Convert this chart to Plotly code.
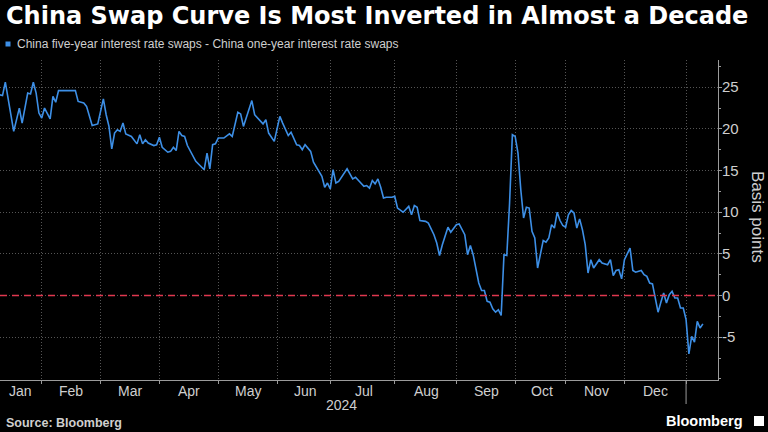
import plotly.graph_objects as go

# ---------------- data ----------------
dates = [
    "2024-01-11", "2024-01-12", "2024-01-15", "2024-01-18", "2024-01-22", "2024-01-23", "2024-01-25", "2024-01-26", "2024-01-29", "2024-01-30", "2024-01-31",
    "2024-02-01", "2024-02-02", "2024-02-06", "2024-02-07", "2024-02-08", "2024-02-09", "2024-02-19", "2024-02-20", "2024-02-22", "2024-02-23", "2024-02-27", "2024-02-29",
    "2024-03-04", "2024-03-05", "2024-03-06", "2024-03-07", "2024-03-08", "2024-03-11", "2024-03-12", "2024-03-13", "2024-03-14", "2024-03-18", "2024-03-20", "2024-03-21", "2024-03-22", "2024-03-25", "2024-03-26", "2024-03-28", "2024-03-29",
    "2024-04-01", "2024-04-02", "2024-04-05", "2024-04-08", "2024-04-09", "2024-04-10", "2024-04-11", "2024-04-12", "2024-04-15", "2024-04-16", "2024-04-19", "2024-04-22", "2024-04-24", "2024-04-25", "2024-04-26", "2024-04-29", "2024-04-30",
    "2024-05-03", "2024-05-07", "2024-05-09", "2024-05-10", "2024-05-14", "2024-05-15", "2024-05-16", "2024-05-21", "2024-05-22", "2024-05-24", "2024-05-27", "2024-05-28", "2024-05-29", "2024-05-31",
    "2024-06-04", "2024-06-05", "2024-06-07", "2024-06-11", "2024-06-13", "2024-06-14", "2024-06-17", "2024-06-18", "2024-06-20", "2024-06-21", "2024-06-24", "2024-06-26", "2024-06-27", "2024-06-28",
    "2024-07-01", "2024-07-02", "2024-07-03", "2024-07-04", "2024-07-09", "2024-07-11", "2024-07-12", "2024-07-17", "2024-07-18", "2024-07-19", "2024-07-22", "2024-07-23", "2024-07-24", "2024-07-25", "2024-07-26", "2024-07-29", "2024-07-31",
    "2024-08-01", "2024-08-02", "2024-08-05", "2024-08-06", "2024-08-08", "2024-08-09", "2024-08-12", "2024-08-13", "2024-08-14", "2024-08-16", "2024-08-19", "2024-08-21", "2024-08-22", "2024-08-23", "2024-08-26", "2024-08-28", "2024-08-29",
    "2024-09-02", "2024-09-03", "2024-09-05", "2024-09-06", "2024-09-09", "2024-09-10", "2024-09-12", "2024-09-13", "2024-09-16", "2024-09-17", "2024-09-18", "2024-09-19", "2024-09-20", "2024-09-23", "2024-09-24", "2024-09-25", "2024-09-26", "2024-09-27", "2024-09-30",
    "2024-10-08", "2024-10-09", "2024-10-10", "2024-10-11", "2024-10-14", "2024-10-15", "2024-10-16", "2024-10-17", "2024-10-18", "2024-10-22", "2024-10-23", "2024-10-24", "2024-10-25", "2024-10-28", "2024-10-29", "2024-10-30", "2024-10-31",
    "2024-11-01", "2024-11-04", "2024-11-05", "2024-11-06", "2024-11-07", "2024-11-08", "2024-11-11", "2024-11-12", "2024-11-13", "2024-11-14", "2024-11-15", "2024-11-19", "2024-11-20", "2024-11-22", "2024-11-25", "2024-11-26", "2024-11-27", "2024-11-28", "2024-11-29",
    "2024-12-02", "2024-12-04", "2024-12-05", "2024-12-06", "2024-12-10", "2024-12-11", "2024-12-12", "2024-12-13", "2024-12-16", "2024-12-17", "2024-12-18", "2024-12-19", "2024-12-20", "2024-12-23", "2024-12-24", "2024-12-25", "2024-12-26", "2024-12-27", "2024-12-30", "2024-12-31",
    "2025-01-01", "2025-01-02", "2025-01-03", "2025-01-06", "2025-01-07", "2025-01-08", "2025-01-09",
]
spread_bp = [
    24.1, 24.0, 25.6, 19.7, 22.5, 20.7, 24.3, 24.2, 25.6, 24.3, 21.9,
    21.3, 22.5, 21.2, 23.9, 23.2, 24.6, 24.6, 23.3, 23.1, 22.7, 20.4, 20.6,
    23.6, 21.7, 20.3, 17.6, 19.5, 19.9, 19.7, 20.7, 19.4, 19.1, 18.2, 19.3, 18.2, 18.7, 18.3, 18.0, 18.1,
    19.0, 17.8, 17.2, 17.3, 17.8, 17.4, 19.7, 19.2, 19.1, 18.0, 16.1, 15.8, 15.1, 17.1, 15.2, 18.1, 18.2,
    18.9, 18.9, 19.4, 19.1, 22.0, 21.8, 20.3, 23.4, 21.7, 20.9, 20.6, 21.1, 19.5, 18.5,
    21.5, 20.7, 19.2, 19.6, 18.1, 18.0, 17.5, 18.1, 17.3, 16.0, 15.4, 14.3, 13.0, 13.5,
    12.8, 15.1, 13.5, 13.7, 15.2, 14.0, 14.2, 13.1, 13.2, 12.9, 13.8, 13.4, 14.0, 13.0, 11.7, 11.8, 11.8,
    11.9, 10.5, 10.3, 10.0, 10.7, 9.7, 10.8, 10.6, 9.0, 8.9, 8.7, 7.3, 6.3, 4.8, 6.1, 8.2, 7.6,
    8.5, 8.6, 7.3, 4.9, 6.0, 4.9, 1.5, 0.6, 0.6, -0.7, -0.8, -1.6, -2.0, -1.7, -2.4, 4.9, 4.8, 11.1, 19.3,
    19.1, 17.1, 12.7, 9.3, 10.6, 10.5, 7.7, 6.9, 3.3, 6.6, 6.4, 6.9, 8.5, 8.1, 10.0, 9.0, 8.4,
    8.2, 9.7, 10.2, 9.9, 8.1, 9.2, 7.9, 6.1, 2.7, 4.3, 3.3, 4.3, 3.9, 3.7, 4.3, 2.4, 3.0, 3.1, 2.0,
    4.3, 5.7, 3.0, 2.8, 3.0, 2.5, 2.3, 1.5, 1.4, -0.3, -2.0, -0.8, 0.3, -0.9, 0.1, 0.5, -0.3, -0.3, -1.5, -1.5,
    -2.9, -7.0, -4.9, -5.6, -3.1, -3.9, -3.4,
]

# market holidays with no observation (skipped on the time axis)
holidays = ["2024-04-04", "2024-05-01", "2024-05-02", "2024-06-10",
            "2024-10-01", "2024-10-02", "2024-10-03", "2024-10-04", "2024-10-07"]

# month boundaries (first trading day of each month) and month labels
month_ticks = ["2024-02-01", "2024-03-01", "2024-04-01", "2024-05-03", "2024-06-03", "2024-07-01",
               "2024-08-01", "2024-09-02", "2024-10-08", "2024-11-01", "2024-12-02", "2025-01-01"]
month_names = ["Jan", "Feb", "Mar", "Apr", "May", "Jun", "Jul", "Aug", "Sep", "Oct", "Nov", "Dec"]
month_label_pos = ["2024-01-22 12:00", "2024-02-15 12:00", "2024-03-15 12:00", "2024-04-16 12:00",
                   "2024-05-17 19:00", "2024-06-18 00:00", "2024-07-17 00:00", "2024-08-16 10:00",
                   "2024-09-16 22:00", "2024-10-21 10:00", "2024-11-15 22:00", "2024-12-17 02:00"]
year_label = "2024"
year_label_pos = "2024-07-05 00:00"
year_boundary = "2025-01-01"

y_ticks = [-5, 0, 5, 10, 15, 20, 25]
y_minor = [-10, -7.5, -2.5, 2.5, 7.5, 12.5, 17.5, 22.5, 27.5]

title = "China Swap Curve Is Most Inverted in Almost a Decade"
series_name = "China five-year interest rate swaps - China one-year interest rate swaps"

# ---------------- styling ----------------
BG = "#000000"
LINE = "#3d8fe6"
AXIS = "#9b9b9b"
GRID = "#555555"
TXT = "#cfcfcf"
FONT = "Liberation Sans"
TFONT = "DejaVu Sans"

W, H = 768, 432
L, R, T, B = 0, 50, 60, 52
PW, PH = W - L - R, H - T - B


def px_x(px):
    return (px - L) / PW


def px_y(py):
    return (H - B - py) / PH


fig = go.Figure()
fig.add_trace(go.Scatter(x=dates, y=spread_bp, mode="lines",
                         line=dict(color=LINE, width=1.6),
                         name=series_name, showlegend=False, hoverinfo="skip"))

annotations = [
    dict(text=f"<b>{title}</b>", xref="paper", yref="paper", x=px_x(4), y=px_y(16),
         xanchor="left", yanchor="middle", showarrow=False,
         font=dict(family=TFONT, size=24, color="#ffffff")),
    dict(text=series_name, xref="paper", yref="paper", x=px_x(15), y=px_y(44),
         xanchor="left", yanchor="middle", showarrow=False,
         font=dict(family=FONT, size=12, color=TXT)),
    dict(text="Basis points", xref="paper", yref="paper", x=px_x(758), y=px_y(217),
         xanchor="center", yanchor="middle", showarrow=False, textangle=90,
         font=dict(family=FONT, size=17, color=TXT)),
    dict(text=year_label, xref="x", yref="paper", x=year_label_pos, y=px_y(405),
         xanchor="center", yanchor="middle", showarrow=False,
         font=dict(family=FONT, size=14, color=TXT)),
    dict(text="<b>Source: Bloomberg</b>", xref="paper", yref="paper", x=px_x(4), y=px_y(423),
         xanchor="left", yanchor="middle", showarrow=False,
         font=dict(family=FONT, size=12.5, color=TXT)),
    dict(text="<b>Bloomberg</b>", xref="paper", yref="paper", x=px_x(745), y=px_y(421),
         xanchor="right", yanchor="middle", showarrow=False,
         font=dict(family=FONT, size=14.5, color="#ffffff")),
]
for name, pos in zip(month_names, month_label_pos):
    annotations.append(dict(text=name, xref="x", yref="paper", x=pos, y=px_y(390.5),
                            xanchor="center", yanchor="middle", showarrow=False,
                            font=dict(family=FONT, size=14, color=TXT)))

shapes = [
    # zero reference line
    dict(type="line", xref="x domain", yref="y", x0=0, x1=1, y0=0, y1=0,
         line=dict(color="#e0384f", width=1.5, dash="7px,5px")),
    # legend swatch
    dict(type="rect", xref="paper", yref="paper", x0=px_x(5.5), x1=px_x(10.5),
         y0=px_y(46.5), y1=px_y(41.5), fillcolor=LINE, line=dict(width=0)),
    # year boundary tick
    dict(type="line", xref="x", yref="paper", x0=year_boundary, x1=year_boundary,
         y0=0, y1=px_y(404), line=dict(color=AXIS, width=1)),
    # Bloomberg logo icon
    dict(type="rect", xref="paper", yref="paper", x0=px_x(754), x1=px_x(764),
         y0=px_y(426), y1=px_y(416), fillcolor="#ffffff", line=dict(width=0)),
]

fig.update_layout(
    width=W, height=H, autosize=False,
    paper_bgcolor=BG, plot_bgcolor=BG,
    margin=dict(l=L, r=R, t=T, b=B, pad=0),
    showlegend=False,
    annotations=annotations, shapes=shapes,
    xaxis=dict(
        type="date",
        range=["2024-01-11 02:30", "2025-01-16 09:30"],
        rangebreaks=[dict(bounds=["sat", "mon"]), dict(values=holidays)],
        tickmode="array", tickvals=month_ticks, showticklabels=False,
        ticks="outside", ticklen=3, tickcolor=AXIS, tickwidth=1,
        showline=True, linecolor=AXIS, linewidth=1,
        showgrid=True, gridcolor=GRID, griddash="1px,2px", gridwidth=1,
        zeroline=False, fixedrange=True,
    ),
    yaxis=dict(
        side="right",
        range=[-10.14, 28.27],
        tickmode="array", tickvals=y_ticks, ticktext=[str(v) for v in y_ticks],
        ticks="outside", ticklen=3, tickcolor=AXIS, tickwidth=1,
        ticklabelstandoff=-3,
        tickfont=dict(family=FONT, size=15, color=TXT),
        minor=dict(tickmode="array", tickvals=y_minor, ticks="outside", ticklen=2,
                   tickcolor=AXIS, showgrid=False),
        showline=True, linecolor=AXIS, linewidth=1,
        showgrid=True, gridcolor=GRID, griddash="1px,2px", gridwidth=1,
        zeroline=False, fixedrange=True,
    ),
)

fig.write_html("out.html", config={"displayModeBar": False, "staticPlot": True},
               post_script="document.body.style.margin='0px';document.body.style.overflow='hidden';")
